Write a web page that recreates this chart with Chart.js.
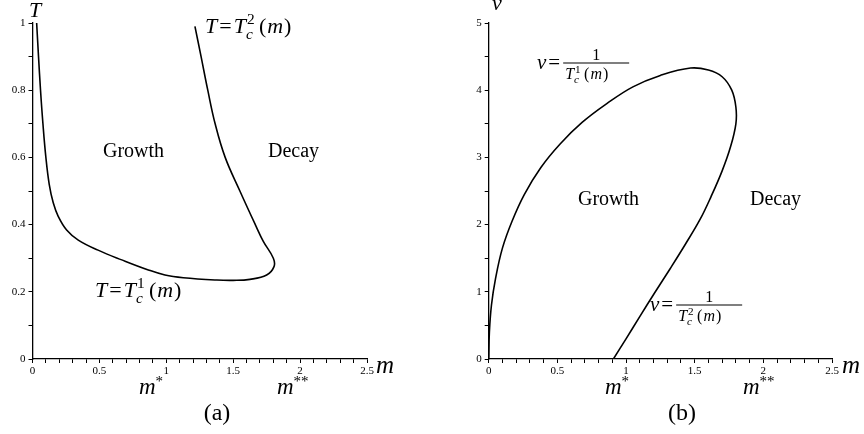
<!DOCTYPE html>
<html>
<head>
<meta charset="utf-8">
<script src="https://cdn.jsdelivr.net/npm/chart.js@4.4.1/dist/chart.umd.min.js"></script>
<style>
  html, body { margin: 0; padding: 0; background: #fff; }
  #wrap { position: relative; width: 864px; height: 434px; }
  canvas { position: absolute; top: 0; }
</style>
</head>
<body>
<div id="wrap">
  <canvas id="chartA" width="432" height="434" style="left:0"></canvas>
  <canvas id="chartB" width="432" height="434" style="left:432px"></canvas>
</div>
<script>
// panel (a): critical temperature curve T(m), T1 branch then T2 branch
const mA = [0.031, 0.045, 0.06, 0.078, 0.1, 0.125, 0.155, 0.193, 0.255, 0.342, 0.49, 0.667, 0.866, 0.99,
            1.127, 1.377, 1.5, 1.625, 1.75, 1.805, 1.80, 1.725, 1.665, 1.55, 1.44, 1.365, 1.31, 1.26, 1.214];
const tA = [1.0, 0.9, 0.8, 0.7, 0.6, 0.52, 0.465, 0.424, 0.384, 0.354, 0.324, 0.295, 0.265, 0.25,
            0.242, 0.235, 0.234, 0.237, 0.25, 0.275, 0.30, 0.35, 0.40, 0.50, 0.60, 0.70, 0.80, 0.90, 0.99];

// panel (b): nu = 1/T over m
const mB  = [0, 0.005, 0.02, 0.05, 0.1, 0.17, 0.26, 0.38, 0.52, 0.68, 0.86, 1.05, 1.25, 1.47,
             1.6, 1.7, 1.77, 1.8, 1.8, 1.76, 1.7, 1.62, 1.54, 1.43, 1.32, 1.21, 1.1, 1.0, 0.908];
const nuB = [0, 0.4, 0.8, 1.2, 1.65, 2.05, 2.45, 2.85, 3.2, 3.52, 3.8, 4.05, 4.22, 4.33,
             4.3, 4.2, 4.0, 3.75, 3.5, 3.15, 2.8, 2.42, 2.08, 1.7, 1.34, 0.99, 0.63, 0.3, 0];

// tick labels
const xTickLabels  = ['0', '0.5', '1', '1.5', '2', '2.5'];
const yTickLabelsA = ['0', '0.2', '0.4', '0.6', '0.8', '1'];
const yTickLabelsB = ['0', '1', '2', '3', '4', '5'];

const SERIF = '"Liberation Serif", "DejaVu Serif", serif';

function txt(ctx, s, x, y, size, italic, align) {
  ctx.font = (italic ? 'italic ' : '') + size + 'px ' + SERIF;
  ctx.textAlign = align || 'left';
  ctx.fillText(s, x, y);
  return x + ctx.measureText(s).width;
}

// T_c^k(m) glyph group, returns end x
function tck(ctx, x, y, k, size) {
  x = txt(ctx, 'T', x, y, size, true);
  txt(ctx, k, x + 1, y - size * 0.4, size * 0.7, false);
  txt(ctx, 'c', x, y + size * 0.25, size * 0.7, true);
  x += size * 0.5 + 2;
  x = txt(ctx, '(', x, y, size, false);
  x = txt(ctx, 'm', x + 1, y, size, true);
  return txt(ctx, ')', x + 1, y, size, false);
}

function eqLabel(ctx, x, y, k) {
  x = txt(ctx, 'T', x, y, 22, true);
  x = txt(ctx, '=', x + 2, y, 22, false);
  tck(ctx, x + 2, y, k, 22);
}

function fracLabel(ctx, x, y, k) {
  // nu = 1 / T_c^k(m); y is the fraction bar
  let xx = txt(ctx, 'ν', x, y + 6, 21, true);
  xx = txt(ctx, '=', xx + 2, y + 6, 21, false);
  const x0 = xx + 3, w = 66;
  ctx.fillRect(x0, y - 0.5, w, 1);
  txt(ctx, '1', x0 + w / 2, y - 3, 16, false, 'center');
  tck(ctx, x0 + 2, y + 16, k, 16);
}

function axisOpts(min, max, step, labels, every, pad) {
  return {
    type: 'linear', min: min, max: max,
    afterBuildTicks: (scale) => {
      const t = [];
      for (let v = min; v <= max + 1e-9; v += step) t.push({ value: +v.toFixed(4) });
      scale.ticks = t;
    },
    ticks: {
      autoSkip: false, maxRotation: 0, padding: pad, color: '#000',
      font: { family: SERIF, size: 11 },
      callback: (v) => {
        const i = Math.round((v - min) / every);
        return Math.abs(v - min - i * every) < 1e-6 ? labels[i] : '';
      }
    },
    grid: { display: true, drawOnChartArea: false, drawTicks: true, tickLength: 4, color: '#000', lineWidth: 1 },
    border: { display: true, color: '#000', width: 1.3 }
  };
}

function makeChart(id, xs, ys, yMax, yStep, yLabels, yEvery, yAxisW, padRight, notes) {
  const pts = xs.map((x, i) => ({ x: x, y: ys[i] }));
  const x = axisOpts(0, 2.5, 0.1, xTickLabels, 0.5, 2);
  x.afterFit = (s) => { s.height = 434 - 359; };
  const y = axisOpts(0, yMax, yStep, yLabels, yMax / 5, 3);
  y.afterFit = (s) => { s.width = yAxisW; };
  return new Chart(document.getElementById(id), {
    type: 'scatter',
    data: { datasets: [{ data: pts, showLine: true, borderColor: '#000', borderWidth: 1.6,
                         pointRadius: 0, tension: 0.4, fill: false }] },
    options: {
      responsive: false, animation: false,
      layout: { padding: { left: 0, top: 23, right: padRight, bottom: 0 } },
      plugins: { legend: { display: false }, tooltip: { enabled: false } },
      scales: { x: x, y: y }
    },
    plugins: [{ id: 'notes', afterDraw: (c) => { const ctx = c.ctx; ctx.save(); ctx.fillStyle = '#000'; notes(ctx); ctx.restore(); } }]
  });
}

makeChart('chartA', mA, tA, 1, 0.1, yTickLabelsA, 0.2, 32.5, 65, (ctx) => {
  txt(ctx, 'T', 35, 17, 22, true, 'center');
  txt(ctx, 'm', 376, 373, 25, true);
  txt(ctx, 'Growth', 103, 157, 20, false);
  txt(ctx, 'Decay', 268, 157, 20, false);
  eqLabel(ctx, 205, 33, '2');
  eqLabel(ctx, 95, 297, '1');
  let e = txt(ctx, 'm', 139, 394, 23, true);
  txt(ctx, '*', e, 386, 15, false);
  e = txt(ctx, 'm', 277, 394, 23, true);
  txt(ctx, '**', e, 386, 15, false);
  txt(ctx, '(a)', 217, 420, 24, false, 'center');
});

makeChart('chartB', mB, nuB, 5, 0.5, yTickLabelsB, 1, 56.7, 32, (ctx) => {
  txt(ctx, 'ν', 65, 10, 22, true, 'center');
  txt(ctx, 'm', 410, 373, 25, true);
  txt(ctx, 'Growth', 146, 205, 20, false);
  txt(ctx, 'Decay', 318, 205, 20, false);
  fracLabel(ctx, 105, 63, '1');
  fracLabel(ctx, 218, 305, '2');
  let e = txt(ctx, 'm', 173, 394, 23, true);
  txt(ctx, '*', e, 386, 15, false);
  e = txt(ctx, 'm', 311, 394, 23, true);
  txt(ctx, '**', e, 386, 15, false);
  txt(ctx, '(b)', 250, 420, 24, false, 'center');
});
</script>
</body>
</html>
